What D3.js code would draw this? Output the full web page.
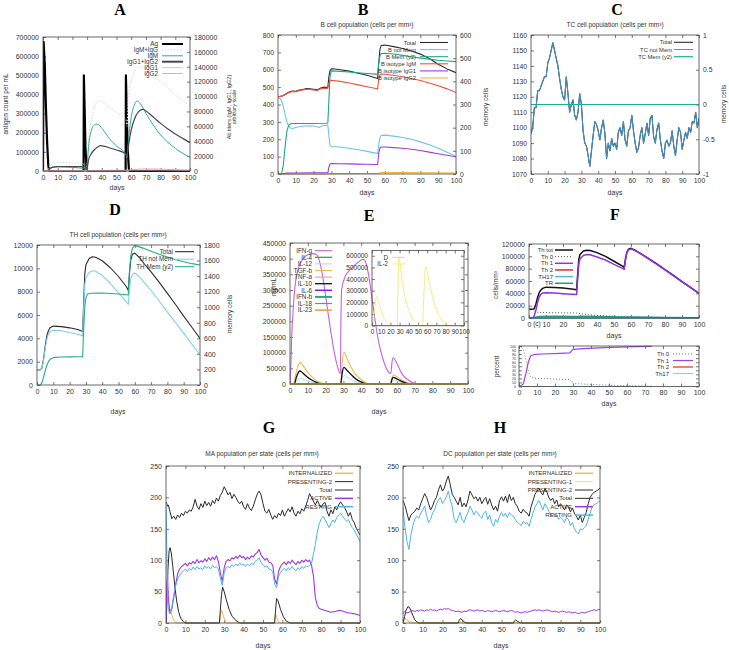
<!DOCTYPE html>
<html><head><meta charset="utf-8">
<script src="https://cdn.jsdelivr.net/npm/d3@7"></script>
<style>body{margin:0;background:#fff}svg{display:block}</style>
</head><body><svg id="chart" width="729" height="650"></svg>
<script>
// ---------------- DATA ----------------
const xTicks = [0,10,20,30,40,50,60,70,80,90,100];
// Panel A (antigen left axis, antibodies right axis) [day, value]
const agCount = [[0,0],[0.4,675000],[1.2,560000],[2,330000],[2.8,150000],[3.6,30000],[4.2,0],[27.6,0],[27.8,500000],[28.3,330000],[28.9,120000],[29.6,10000],[30,0],[56.2,0],[56.4,500000],[56.9,330000],[57.6,120000],[58.4,10000],[59,0],[100,0]];
const abIgMIgG = [[0,0],[3,0],[5,8000],[10,11000],[15,11500],[20,11000],[27.5,10000],[28.5,2000],[29.5,0],[31,41600],[34,77500],[38,94500],[42,90900],[46,84200],[50,78400],[55,72100],[56.4,69400],[57.2,60000],[58,99900],[61,126700],[64,137900],[67,140200],[70,136600],[75,129000],[80,120000],[85,111000],[90,102100],[95,94500],[100,87300]];
const abIgM = [[0,0],[3,0],[5,3600],[8,5500],[10,5800],[15,5400],[20,4900],[25,4000],[27.5,3500],[28.5,1000],[29.5,0],[30,8000],[31,32700],[33,55000],[35,62000],[36.5,63000],[38,61800],[41,55000],[45,43900],[50,33600],[55,26000],[56.4,22000],[57.1,18000],[58,38000],[59,57000],[60,72000],[62,88000],[64,94000],[66,91000],[70,77500],[75,61800],[80,48400],[85,38500],[90,30400],[95,23700],[100,18400]];
const abIgG = [[0,0],[3,0],[5,3600],[8,5500],[10,5800],[15,6000],[20,6000],[25,5800],[27.5,5500],[28.5,1500],[29.5,0],[30,3000],[31,14800],[33,23700],[36,30400],[39,34000],[42,33100],[45,31300],[50,28200],[55,24600],[56.4,22800],[57.2,20000],[58,32000],[60,55000],[62,68500],[65,79700],[68,82800],[72,77500],[76,70700],[80,64000],[85,56400],[90,49700],[95,43900],[100,38100]];
const abIgG1 = [[0,0],[5,400],[30,600],[60,1200],[80,1200],[100,900]];
const abIgG2 = [[0,0],[56,0],[60,1500],[70,2800],[80,2500],[90,1800],[100,1200]];

// Panel B
const bTotal = [[0,445],[2,448],[4,458],[6,470],[8,478],[10,476],[12,483],[14,486],[16,492],[18,490],[20,487],[22,484],[24,495],[26,500],[27.5,497],[28,500],[28.6,560],[29.2,595],[30,605],[32,604],[35,600],[40,592],[45,580],[50,568],[55,553],[56,550],[56.6,640],[57.3,720],[58,740],[60,742],[65,733],[70,722],[75,708],[80,690],[85,665],[90,632],[95,605],[100,583]];
const bNotMem = [[0,440],[1,436],[2,420],[3,390],[4,340],[5,300],[6,275],[7,265],[8,262],[10,268],[12,272],[15,276],[18,278],[20,276],[22,272],[23,268],[25,278],[27,280],[28,282],[28.6,220],[29.2,165],[30,157],[32,157],[35,155],[40,148],[45,140],[50,130],[55,120],[56,118],[56.6,170],[57.3,210],[58,222],[60,224],[65,218],[70,210],[75,200],[80,185],[85,168],[90,148],[95,125],[100,102]];
const bMem = [[0,0],[2,0],[3,40],[4,120],[5,185],[6,210],[7,217],[10,218],[20,218],[27,219],[28,220],[28.6,320],[29.2,420],[30,445],[35,443],[40,440],[45,437],[50,434],[55,431],[56,430],[56.6,480],[57.3,510],[58,520],[60,521],[65,518],[70,512],[75,506],[80,500],[85,496],[90,491],[95,488],[100,485]];
const bIgM = [[0,445],[2,447],[4,456],[6,468],[8,475],[10,474],[12,480],[14,483],[16,488],[18,487],[20,484],[22,481],[24,490],[26,494],[27.5,492],[28,494],[28.6,520],[29.2,535],[30,540],[35,533],[40,524],[45,513],[50,502],[55,492],[56,490],[56.6,550],[57.3,572],[58,575],[60,574],[65,568],[70,560],[75,550],[80,538],[85,524],[90,508],[95,490],[100,469]];
const bIgG1 = [[0,0],[3,2],[5,5],[10,6],[20,7],[28,7],[28.6,40],[29.2,58],[30,60],[35,59],[40,58],[45,57],[50,56],[55,55],[56,55],[56.6,120],[57.3,150],[58,155],[60,155],[65,152],[70,148],[75,142],[80,135],[85,126],[90,117],[95,108],[100,99]];
const bIgG2 = [[0,0],[28,0],[30,2],[56,3],[58,8],[70,8],[85,7],[100,6]];

// Panel C (daily, days 0..100)
const cDays = d3.range(0, 101);
const tcTotal = [1096,1100,1113,1113,1124,1124,1127,1130,1133,1133,
 1142,1145,1150,1155,1150,1145,1140,1132,1125,1120,
 1118,1133,1122,1110,1115,1118,1108,1105,1110,1122,
 1115,1098,1090,1088,1082,1075,1085,1095,1104,1102,
 1098,1092,1100,1105,1096,1080,1090,1085,1093,1088,
 1090,1086,1097,1100,1095,1104,1092,1088,1098,1100,
 1108,1098,1090,1084,1087,1095,1100,1090,1096,1103,
 1095,1106,1108,1094,1090,1099,1103,1092,1085,1080,
 1090,1092,1088,1090,1098,1088,1082,1092,1100,1097,
 1086,1092,1097,1093,1100,1097,1104,1103,1110,1100,1106];
const tcNotMem = tcTotal.slice();
const tcMem = [[0,0],[100,0]];

// Panel D
const thTotal = [[0,1300],[2,1300],[3,1450],[4,2200],[5,3300],[6,4200],[7,4650],[8,4900],[10,5050],[15,5000],[20,4900],[25,4750],[28,4580],[28.6,7000],[29.3,9500],[30,10300],[32,10850],[34,11000],[36,10950],[40,10650],[45,10050],[50,9300],[55,8400],[56,8100],[56.7,9500],[57.5,10700],[58.5,11200],[60,11300],[63,10900],[66,10350],[70,9700],[75,8800],[80,7850],[85,6900],[90,5900],[95,4950],[100,4000]];
const thNotMem = [[0,1300],[2,1300],[3,1420],[4,2100],[5,3100],[6,3900],[7,4350],[8,4580],[10,4700],[15,4650],[20,4500],[25,4350],[28,4200],[28.6,6500],[29.3,8600],[30,9200],[32,9650],[34,9800],[36,9750],[40,9400],[45,8700],[50,7900],[55,7100],[56,6900],[56.7,8200],[57.5,9100],[58.5,9450],[60,9600],[63,9250],[66,8750],[70,8100],[75,7200],[80,6250],[85,5350],[90,4450],[95,3500],[100,2600]];
const thMem = [[0,0],[2,0],[3,30],[4,100],[5,180],[6,250],[7,300],[8,330],[10,352],[15,360],[20,362],[25,363],[28,365],[28.6,700],[29.3,1000],[30,1120],[31,1170],[33,1180],[40,1182],[50,1170],[55,1160],[56,1158],[56.7,1450],[57.5,1650],[58.5,1760],[60,1795],[65,1760],[70,1720],[75,1680],[80,1645],[85,1610],[90,1585],[95,1560],[100,1543]];

// Panel E (ng/mL)
const ifng = [[0,0],[0.5,60000],[0.9,140000],[1.9,247000],[2.8,311000],[4.7,369000],[7.5,401000],[11.2,415000],[13,416000],[15,412000],[16.9,385000],[18.7,332000],[20.6,257000],[22.5,183000],[24.3,119000],[26.2,66000],[27.7,39000],[28.3,34000],[28.6,200000],[29,300000],[30.9,342000],[33.7,364000],[37.5,385000],[41.2,398000],[42.1,394000],[44,353000],[45.9,279000],[47.8,204000],[49.6,140000],[52.4,76600],[55.2,39000],[56.7,34000],[57.3,70000],[58,84000],[60,66000],[62.7,34000],[66.5,12800],[70,2000],[75,0],[100,0]];
const il4 = [[0,0],[100,0]];
const il12 = [[0,0],[2.5,0],[3.5,9000],[5,16000],[6,17500],[8,14000],[10,9500],[13,4500],[16,1500],[19,0],[28.5,0],[29.3,18000],[30.5,27000],[32,22000],[35,12000],[38,5000],[42,1000],[45,0],[56.5,0],[57.3,8000],[58.5,12000],[61,8000],[64,3000],[68,0],[100,0]];
const tgfb = [[0,0],[2,0],[3,25000],[4.5,58000],[5.6,69000],[7,62000],[8.4,50000],[10,37000],[12.2,23400],[14,14000],[15.9,7400],[18,2500],[20,0],[28.5,0],[29.2,60000],[30.3,103000],[31.5,88000],[32.8,71000],[34.5,52000],[36.5,34000],[38.5,21000],[40.3,12800],[42.5,5000],[45,0],[56.5,0],[57.3,20000],[58.4,28700],[60,23000],[62.7,12800],[66,4000],[70,0],[100,0]];
const tnfa = [[0,0],[100,0]];
const il10 = [[0,0],[2.5,0],[3.5,20000],[4.8,38000],[5.6,41500],[7,36000],[8.4,28700],[10,20500],[12.2,12800],[14.5,6000],[18,0],[28.5,0],[29.3,35000],[30.3,53200],[32,44000],[34.6,28700],[36.5,18500],[38.4,10600],[41,4000],[45,0],[56.5,0],[57.3,15000],[58,21300],[60,16500],[61.8,10600],[64.5,4500],[68,0],[100,0]];
const il6 = [[0,0],[100,0]];
const ifnb = [[0,0],[100,0]];
const il18 = [[0,0],[100,0]];
const il23 = [[0,0],[100,0]];
// E inset
const dInset = [[0,0],[100,0]];
const il2 = [[0,0],[1,0],[2,80000],[3.5,190000],[4.8,250000],[6,235000],[8,180000],[10.3,120000],[13,65000],[15.8,34000],[18,15000],[21,3000],[23,0],[27.5,0],[28,200000],[28.7,480000],[29.3,590000],[30.5,530000],[32.2,420000],[34,330000],[35.9,249000],[38,180000],[41.4,106000],[44,60000],[46.9,34000],[50.5,8000],[54,0],[55,0],[55.8,150000],[57,380000],[58.2,505000],[59,495000],[61,420000],[63.4,334000],[66,240000],[68.9,163000],[72,95000],[76,48000],[80,18000],[83.5,5000],[88,0],[100,0]];

// Panel F top (cells/mm3)
const fThTot = [[0,14000],[2,14000],[3,15000],[4,22000],[5,33000],[6,41000],[7,45500],[8,48000],[10,50000],[15,49500],[20,48500],[25,47000],[28,46000],[28.6,70000],[29.3,95000],[30,103000],[32,108500],[34,110000],[36,109500],[40,106000],[45,100000],[50,92000],[55,84000],[56,82000],[56.7,95000],[57.5,106000],[58.5,111500],[60,113000],[63,109000],[66,104000],[70,97000],[75,88000],[80,78500],[85,69000],[90,59000],[95,49500],[100,40000]];
const fTh0 = [[0,14000],[2,14000],[3,12000],[4,10000],[5,9200],[10,8800],[20,8300],[28,8000],[30,7000],[35,5500],[40,4200],[50,2800],[56,2300],[60,1800],[70,1200],[80,800],[100,400]];
const fTh1 = [[0,0],[2,0],[3,3000],[4,12000],[5,25000],[6,34000],[7,38500],[8,40500],[10,41000],[15,40500],[20,39500],[25,38500],[28,38000],[28.6,62000],[29.3,88000],[30,96000],[32,101500],[34,103000],[36,102500],[40,99000],[45,94000],[50,87000],[55,80500],[56,79000],[56.7,93000],[57.5,105000],[58.5,110500],[60,112000],[63,108500],[66,103500],[70,96500],[75,87500],[80,78000],[85,68500],[90,58700],[95,49300],[100,40000]];
const fTh2 = [[0,0],[100,0]];
const fTh17 = [[0,0],[100,0]];
const fTr = [[0,0],[3,1000],[6,2500],[15,2700],[28,2600],[32,3000],[40,2500],[56,1800],[60,1500],[80,1000],[100,600]];
// Panel F bottom (percent)
const pTh0 = [[0,100],[1,98],[2.4,92],[3.9,66],[5.2,38],[6.5,23],[8.9,20],[13.5,19.5],[22.8,18],[28.3,17],[29.2,11],[30.2,7.5],[35.7,6],[50.5,3],[65.4,1.5],[73.7,0.8]];
const pTh1 = [[0,0],[0.5,0],[2.4,6.5],[3.9,33],[5.2,61],[6.5,76],[8.9,79.5],[13.5,80.3],[22.8,82],[28.3,82.8],[29.2,88],[30.2,91.8],[35.7,93.4],[50.5,96.7],[65.4,98.4],[73.7,99.2]];
const pTh2 = [[0,0],[73.7,0]];
const pTh17 = [[0,0],[73.7,0]];

// Panels G, H (days grid)
const ghDays = [0,0.4,0.8,1.2].concat(d3.range(2, 101));
const maTotal = [193,190,186,188,
 178,166,170,165,172,168,175,171,178,175,
 180,178,185,197,186,181,190,184,194,187,
 192,186,195,190,199,194,203,208,217,211,
 204,208,198,205,200,194,190,194,185,181,
 190,183,179,186,196,205,210,204,190,178,
 175,181,172,165,171,167,175,171,180,170,
 176,182,177,185,175,170,178,174,182,178,
 186,195,206,200,194,188,195,189,184,190,
 192,178,170,180,174,185,180,188,193,188,
 184,178,170,176,165,160,151,146,140];
const maActive = [0,60,76,40,
 15,22,40,62,78,86,90,92,95,91,
 96,94,98,95,101,96,99,97,102,98,
 104,100,105,101,107,98,80,66,88,98,
 101,99,104,102,106,103,108,104,106,101,
 105,102,107,105,110,112,117,108,104,100,
 103,97,96,92,70,62,82,90,94,97,
 93,98,95,100,96,93,98,95,100,97,
 101,98,100,92,75,40,28,23,22,21,
 20,19,18,17,18,18,19,20,20,19,
 18,17,16,16,15,15,14,13,12];
const maResting = [190,120,40,20,
 15,25,45,60,70,76,80,83,86,82,
 87,84,89,85,90,86,88,85,91,87,
 90,86,92,88,90,86,72,60,80,88,
 90,88,93,90,94,91,96,92,94,90,
 94,91,95,93,98,100,104,96,93,89,
 91,86,85,82,62,56,74,80,84,87,
 83,88,85,90,86,83,88,85,90,87,
 91,90,92,95,110,125,145,158,166,170,
 165,158,152,158,164,160,168,172,175,170,
 166,162,165,158,152,148,142,136,130];
const maPresenting2 = [[0,0],[0.5,40],[1,85],[1.6,115],[2.1,120],[2.8,110],[3.5,90],[4.5,60],[5.5,35],[6.5,18],[7.5,8],[9,2],[10,0],[27.5,0],[28,20],[28.6,45],[29.2,57],[30,50],[31,38],[32.5,22],[34,11],[36,4],[38,0],[56,0],[56.5,22],[57,39],[57.8,35],[59,22],[60.5,10],[62,3],[64,0],[100,0]];
const maInternalized = [[0,0],[0.4,30],[0.8,39],[1.5,30],[2.5,18],[3.5,8],[4.5,2],[5.5,0],[27.6,0],[28.2,15],[28.7,21],[29.5,12],[30.5,3],[31.5,0],[55.8,0],[56.2,10],[56.5,14],[57.2,8],[58,2],[59,0],[100,0]];

const dcTotal = [195,192,188,185,
 175,163,172,175,178,183,180,190,198,206,
 200,190,180,186,195,200,212,220,210,215,
 226,234,220,205,200,194,188,200,185,191,
 185,196,210,204,198,201,194,200,190,196,
 200,189,198,188,180,186,178,195,201,194,
 202,192,205,195,200,190,186,178,175,181,
 177,175,170,185,195,205,210,215,208,204,
 214,209,200,195,199,190,196,185,190,185,
 180,188,185,177,183,175,170,164,172,160,
 168,176,190,200,205,208,210,212,215];
const dcResting = [185,170,155,148,
 130,117,140,155,165,170,167,175,180,186,
 171,160,165,175,180,190,196,200,190,195,
 201,210,196,185,165,160,168,176,165,160,
 170,176,186,180,172,178,175,170,167,175,
 178,165,172,160,154,165,160,170,176,170,
 175,168,176,172,170,165,160,158,155,162,
 158,160,154,165,175,185,190,195,188,180,
 190,185,178,172,175,170,172,165,168,165,
 160,168,165,155,160,150,145,142,150,148,
 152,155,165,175,185,188,190,192,195];
const dcActive = [15,17,18,17,
 16,17,19,20,18,20,19,21,20,19,
 21,20,22,20,21,19,21,22,21,23,
 22,23,21,20,19,18,19,18,17,19,
 18,20,21,20,19,20,21,19,20,19,
 18,20,19,18,19,20,19,18,19,20,
 19,18,19,20,19,17,18,17,16,17,
 18,17,18,19,20,21,20,21,20,19,
 20,21,20,19,18,19,18,17,18,19,
 18,17,18,17,16,17,16,15,16,17,
 16,17,18,19,20,21,20,21,22];
const dcPresenting2 = [[0,0],[0.8,10],[1.5,20],[2.5,26],[3.2,25],[4,20],[5,12],[6,5],[7,2],[8,0],[28,0],[28.5,4],[29.2,7],[30,5],[31,2],[32,0],[56,0],[56.5,3],[57.2,5],[58,3],[59,1],[60,0],[100,0]];
const dcPresenting1 = [[0,0],[0.8,5],[2,6],[3,4],[4,2],[5,1],[83,1],[84,0],[100,0]];
const dcInternalized = [[0,0],[0.5,6],[1,8],[2,5],[3,2],[4,0],[28.5,0],[29,2],[30,0],[56.5,0],[57,1.5],[58,0],[100,0]];

// ---------------- DRAWING ----------------
const FONT = '"Liberation Sans", Arial, Helvetica, sans-serif';
const SERIF = '"Liberation Serif", "Times New Roman", serif';
const svg = d3.select('#chart');
const zip = (xs, ys) => ys.map((v, i) => [xs[i], v]);
let clipN = 0;

function txt(x, y, s, o = {}) {
  const t = svg.append('text').attr('x', x).attr('y', y).text(s)
    .attr('font-size', o.fs || 7).attr('text-anchor', o.anchor || 'middle')
    .attr('font-family', o.ff || FONT).attr('fill', o.fill || '#333');
  if (o.bold) t.attr('font-weight', 'bold');
  if (o.rot) t.attr('transform', `rotate(${o.rot},${x},${y})`);
  return t;
}

function panel(o) {
  const g = svg.append('g');
  const x = d3.scaleLinear().domain(o.xd || [0, 100]).range([o.l, o.r]);
  const y = d3.scaleLinear().domain(o.yd).range([o.b, o.t]);
  const y2 = o.y2d ? d3.scaleLinear().domain(o.y2d).range([o.b, o.t]) : null;
  const fs = o.fs || 7;
  const fmt = d => String(d);
  const style = (f) => (sel) => {
    sel.select('.domain').remove();
    sel.selectAll('.tick line').attr('stroke', '#555').attr('stroke-width', 0.8);
    sel.selectAll('.tick text').attr('font-size', f).attr('font-family', FONT).attr('fill', '#333');
  };
  const xt = o.xt || xTicks;
  g.append('g').attr('transform', `translate(0,${o.b})`)
    .call(d3.axisBottom(x).tickValues(xt).tickSizeInner(-3).tickSizeOuter(0).tickPadding(4).tickFormat(fmt)).call(style(o.xfs || fs));
  g.append('g').attr('transform', `translate(0,${o.t})`)
    .call(d3.axisTop(x).tickValues(xt).tickSizeInner(-3).tickSizeOuter(0).tickFormat('')).call(style(fs));
  g.append('g').attr('transform', `translate(${o.l},0)`)
    .call(d3.axisLeft(y).tickValues(o.yt).tickSizeInner(-3).tickSizeOuter(0).tickPadding(o.ypad || 4).tickFormat(fmt)).call(style(o.yfs || fs));
  if (y2) {
    g.append('g').attr('transform', `translate(${o.r},0)`)
      .call(d3.axisRight(y2).tickValues(o.y2t).tickSizeInner(-3).tickSizeOuter(0).tickPadding(4).tickFormat(fmt)).call(style(fs));
  } else {
    g.append('g').attr('transform', `translate(${o.r},0)`)
      .call(d3.axisRight(y).tickValues(o.yt).tickSizeInner(-3).tickSizeOuter(0).tickFormat('')).call(style(fs));
  }
  const cid = 'clip' + (clipN++);
  svg.append('clipPath').attr('id', cid).append('rect')
    .attr('x', o.l).attr('y', o.t - 1.5).attr('width', o.r - o.l).attr('height', o.b - o.t + 3);
  o.series.forEach(s => {
    const sc = s.y2 ? y2 : y;
    const line = d3.line().x(d => x(d[0])).y(d => sc(d[1]))
      .curve(s.smooth ? d3.curveMonotoneX : d3.curveLinear);
    g.append('path').datum(s.data).attr('d', line).attr('fill', 'none')
      .attr('stroke', s.c).attr('stroke-width', s.w || 1)
      .attr('stroke-dasharray', s.dash || null)
      .attr('stroke-linejoin', 'round')
      .attr('clip-path', `url(#${cid})`);
  });
  g.append('rect').attr('x', o.l).attr('y', o.t).attr('width', o.r - o.l).attr('height', o.b - o.t)
    .attr('fill', 'none').attr('stroke', '#444').attr('stroke-width', 0.8);
  if (o.leg) {
    const L = o.leg;
    o.series.filter(s => s.name).forEach((s, i) => {
      const yy = L.y0 + i * L.dy;
      g.append('text').attr('x', L.tx).attr('y', yy + L.fs * 0.35).text(s.name)
        .attr('font-size', L.fs).attr('font-family', FONT).attr('text-anchor', 'end').attr('fill', '#333');
      g.append('line').attr('x1', L.x1).attr('x2', L.x2).attr('y1', yy).attr('y2', yy)
        .attr('stroke', s.c).attr('stroke-width', s.lw || s.w || 1).attr('stroke-dasharray', s.dash || null);
    });
  }
  return {x, y};
}

// ---- A ----
txt(120, 15, 'A', {fs: 16, bold: true, ff: SERIF, fill: '#000'});
panel({l: 43, r: 190, t: 37, b: 171, yd: [0, 700000], yt: d3.range(0, 700001, 100000),
  y2d: [0, 180000], y2t: d3.range(0, 180001, 20000), fs: 7,
  series: [
    {name: 'Ag', data: agCount, c: '#000', w: 2.2, lw: 2},
    {name: 'IgM+IgG', data: abIgMIgG, c: '#d6d6d6', w: 1, dash: '1.5,1.5', y2: true, smooth: true},
    {name: 'IgM', data: abIgM, c: '#2db08c', w: 1, y2: true, smooth: true},
    {name: 'IgG1+IgG2', data: abIgG, c: '#4b4452', w: 1.2, lw: 2, y2: true, smooth: true},
    {name: 'IgG1', data: abIgG1, c: '#f2b8d8', w: 1, y2: true, smooth: true},
    {name: 'IgG2', data: abIgG2, c: '#f7a8a0', w: 1, y2: true, smooth: true}],
  leg: {tx: 158, x1: 162, x2: 183, y0: 44, dy: 5.9, fs: 6.3}});
txt(117, 190, 'days', {fs: 7});
txt(8, 104, 'antigen count per mL', {fs: 6.5, rot: -90});
txt(231, 107, 'Ab titers (IgM, IgG1, IgG2)', {fs: 5.5, rot: -90});
txt(235.5, 107, 'arbitrary scale', {fs: 5.5, rot: -90});

// ---- B ----
txt(363, 15, 'B', {fs: 16, bold: true, ff: SERIF, fill: '#000'});
txt(367, 26.5, 'B cell population (cells per mm³)', {fs: 6.5});
panel({l: 278, r: 456, t: 35, b: 174, yd: [0, 800], yt: d3.range(0, 801, 100),
  y2d: [0, 600], y2t: d3.range(0, 601, 100), fs: 6.8,
  series: [
    {name: 'Total', data: bTotal, c: '#2b2b2b', w: 1.1},
    {name: 'B not Mem', data: bNotMem, c: '#6cc4ea', w: 1.1},
    {name: 'B Mem (y2)', data: bMem, c: '#1fa67e', w: 1.1, y2: true},
    {name: 'B isotype IgM', data: bIgM, c: '#f0523c', w: 1.1},
    {name: 'B isotype IgG1', data: bIgG1, c: '#9b3de6', w: 1.1},
    {name: 'B isotype IgG2', data: bIgG2, c: '#f2b530', w: 1.1}],
  leg: {tx: 416, x1: 420, x2: 448, y0: 42.5, dy: 7.1, fs: 5.8}});
txt(367, 195, 'days', {fs: 7});
txt(487.5, 107, 'memory cells', {fs: 6.5, rot: -90});

// ---- C ----
txt(617, 15, 'C', {fs: 16, bold: true, ff: SERIF, fill: '#000'});
txt(615, 26.5, 'TC cell population (cells per mm³)', {fs: 6.5});
panel({l: 531, r: 699, t: 35, b: 174, yd: [1070, 1160], yt: d3.range(1070, 1161, 10),
  y2d: [-1, 1], y2t: [-1, -0.5, 0, 0.5, 1], fs: 6.8,
  series: [
    {name: 'Total', data: zip(cDays, tcTotal), c: '#2b2b2b', w: 1.1},
    {name: 'TC not Mem', data: zip(cDays, tcNotMem), c: '#4596cc', w: 1},
    {name: 'TC Mem (y2)', data: tcMem, c: '#20b07c', w: 1.2, y2: true}],
  leg: {tx: 672, x1: 674, x2: 693, y0: 42.3, dy: 7.2, fs: 5.8}});
txt(615, 195, 'days', {fs: 7});
txt(726, 104, 'memory cells', {fs: 6.5, rot: -90});

// ---- D ----
txt(115, 215, 'D', {fs: 16, bold: true, ff: SERIF, fill: '#000'});
txt(118, 236.5, 'TH cell population (cells per mm³)', {fs: 6.5});
panel({l: 37, r: 200, t: 245, b: 385, yd: [0, 12000], yt: d3.range(0, 12001, 2000),
  y2d: [0, 1800], y2t: d3.range(0, 1801, 200), fs: 7,
  series: [
    {name: 'Total', data: thTotal, c: '#2b2b2b', w: 1.1},
    {name: 'TH not Mem', data: thNotMem, c: '#7fd0f0', w: 1.1},
    {name: 'TH Mem (y2)', data: thMem, c: '#22b07e', w: 1.1, y2: true}],
  leg: {tx: 173, x1: 175, x2: 194, y0: 251.7, dy: 7.5, fs: 6.3}});
txt(118, 414, 'days', {fs: 7});
txt(232, 314, 'memory cells', {fs: 6.5, rot: -90});

// ---- E ----
txt(369, 221, 'E', {fs: 16, bold: true, ff: SERIF, fill: '#000'});
panel({l: 290, r: 468, t: 243, b: 384, yd: [0, 450000], yt: d3.range(0, 450001, 50000), fs: 7,
  series: [
    {name: 'IFN-g', data: ifng, c: '#c064e0', w: 1.1, smooth: true},
    {name: 'IL-4', data: il4, c: '#2ca02c', w: 1.2},
    {name: 'IL-12', data: il12, c: '#a8dcf2', w: 1, smooth: true},
    {name: 'TGF-b', data: tgfb, c: '#f2b84a', w: 1.1, smooth: true},
    {name: 'TNF-a', data: tnfa, c: '#f4a0a0', w: 1.2},
    {name: 'IL-10', data: il10, c: '#111', w: 1.3, smooth: true},
    {name: 'IL-6', data: il6, c: '#7a22e0', w: 1.5},
    {name: 'IFN-b', data: ifnb, c: '#2aa87a', w: 2},
    {name: 'IL-18', data: il18, c: '#3b9ae0', w: 1.2},
    {name: 'IL-23', data: il23, c: '#e8a030', w: 1.5}],
  leg: {tx: 312, x1: 315, x2: 332, y0: 250.7, dy: 6.6, fs: 6.3}});
panel({l: 372, r: 464, t: 250.5, b: 325.7, yd: [0, 645000], yt: d3.range(0, 600001, 100000), fs: 6.5,
  series: [
    {name: 'D', data: dInset, c: '#cfcfcf', w: 1},
    {name: 'IL-2', data: il2, c: '#f4ec80', w: 1, smooth: true}],
  leg: {tx: 388, x1: 392, x2: 405, y0: 257.3, dy: 6.7, fs: 6.3}});
txt(379, 414, 'days', {fs: 7});
txt(275.5, 287, 'ng/mL', {fs: 6.5, rot: -90});

// ---- F ----
txt(615, 220, 'F', {fs: 16, bold: true, ff: SERIF, fill: '#000'});
panel({l: 529, r: 699, t: 244, b: 318, yd: [0, 120000], yt: d3.range(0, 120001, 20000), fs: 7,
  series: [
    {name: 'Th tot', data: fThTot, c: '#111', w: 1.5},
    {name: 'Th 0', data: fTh0, c: '#555', w: 1, dash: '1,2'},
    {name: 'Th 1', data: fTh1, c: '#9033e6', w: 1.5},
    {name: 'Th 2', data: fTh2, c: '#e8281e', w: 1.5},
    {name: 'TH17', data: fTh17, c: '#4fb6ea', w: 1.5},
    {name: 'TR', data: fTr, c: '#1fa07a', w: 1.5}],
  leg: {tx: 553, x1: 555, x2: 573, y0: 250, dy: 6.65, fs: 6}});
txt(537, 326, '(c)', {fs: 6.5});
txt(614, 337.5, 'days', {fs: 7});
txt(497.5, 285, 'cells/mm³', {fs: 6.5, rot: -90});
panel({l: 519, r: 699, t: 346, b: 386.5, yd: [0, 100], yt: d3.range(0, 101, 10), fs: 7, yfs: 3.6, ypad: 3,
  series: [
    {name: 'Th 0', data: pTh0, c: '#777', w: 1, dash: '1,2'},
    {name: 'Th 1', data: pTh1, c: '#9a44e8', w: 1.2},
    {name: 'Th 2', data: pTh2, c: '#e8281e', w: 1.2},
    {name: 'Th17', data: pTh17, c: '#8fd0f0', w: 1.2}],
  leg: {tx: 669, x1: 673, x2: 693, y0: 354, dy: 6.5, fs: 6}});
txt(609, 406, 'days', {fs: 7});
txt(499, 366.5, 'percent', {fs: 6.5, rot: -90});

// ---- G ----
txt(269, 433, 'G', {fs: 16, bold: true, ff: SERIF, fill: '#000'});
txt(262, 455.5, 'MA population per state (cells per mm³)', {fs: 6.5});
panel({l: 166, r: 360, t: 466, b: 623, yd: [0, 250], yt: d3.range(0, 251, 50), fs: 7,
  series: [
    {name: 'INTERNALIZED', data: maInternalized, c: '#f7b55e', w: 1, lw: 1.5},
    {name: 'PRESENTING-2', data: maPresenting2, c: '#2b2b2b', w: 1},
    {name: 'Total', data: zip(ghDays, maTotal), c: '#2b2b2b', w: 1},
    {name: 'ACTIVE', data: zip(ghDays, maActive), c: '#a135e8', w: 1.1, lw: 1.5},
    {name: 'RESTING', data: zip(ghDays, maResting), c: '#4cb5e6', w: 1, lw: 1.5}],
  leg: {tx: 332, x1: 335, x2: 353, y0: 473.3, dy: 8.35, fs: 6}});
txt(263, 647.5, 'days', {fs: 7});

// ---- H ----
txt(500, 433, 'H', {fs: 16, bold: true, ff: SERIF, fill: '#000'});
txt(500, 455.5, 'DC population per state (cells per mm³)', {fs: 6.5});
panel({l: 403, r: 600, t: 466, b: 623, yd: [0, 250], yt: d3.range(0, 251, 50), fs: 7,
  series: [
    {name: 'INTERNALIZED', data: dcInternalized, c: '#f7b55e', w: 1, lw: 1.5},
    {name: 'PRESENTING-1', data: dcPresenting1, c: '#f2e35a', w: 1},
    {name: 'PRESENTING-2', data: dcPresenting2, c: '#2b2b2b', w: 1},
    {name: 'Total', data: zip(ghDays, dcTotal), c: '#2b2b2b', w: 1},
    {name: 'ACTIVE', data: zip(ghDays, dcActive), c: '#a135e8', w: 1, lw: 1.5},
    {name: 'RESTING', data: zip(ghDays, dcResting), c: '#4cb5e6', w: 1, lw: 1.5}],
  leg: {tx: 572, x1: 575, x2: 593, y0: 473.3, dy: 8.35, fs: 6}});
txt(501, 647.5, 'days', {fs: 7});
</script>
</body></html>
